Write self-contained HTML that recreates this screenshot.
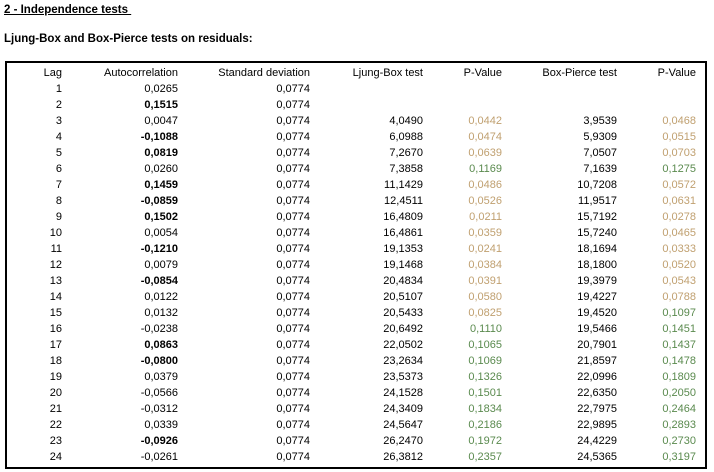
<!DOCTYPE html>
<html><head><meta charset="utf-8">
<style>
body{margin:0;background:#fff;width:714px;height:472px;overflow:hidden;font-family:"Liberation Sans",Arial,sans-serif;font-size:11px;color:#000;position:relative}
.t{position:absolute;white-space:nowrap}
.c{position:absolute;white-space:nowrap;text-align:right;line-height:16px;height:16px}
#box{position:absolute;left:5px;top:61px;width:698px;height:404px;border:2px solid #000}
</style></head><body>
<div class="t" style="left:4px;top:4px;font-weight:bold;text-decoration:underline;font-size:11.5px">2 - Independence tests&nbsp;</div>
<div class="t" style="left:4px;top:33px;font-weight:bold;font-size:11.5px">Ljung-Box and Box-Pierce tests on residuals:</div>
<div id="box"></div>
<div id="cells"></div>
<script>
const headers=["Lag","Autocorrelation","Standard deviation","Ljung-Box test","P-Value","Box-Pierce test","P-Value"];
const lags=[1,2,3,4,5,6,7,8,9,10,11,12,13,14,15,16,17,18,19,20,21,22,23,24];
const autocorr=["0,0265","0,1515","0,0047","-0,1088","0,0819","0,0260","0,1459","-0,0859","0,1502","0,0054","-0,1210","0,0079","-0,0854","0,0122","0,0132","-0,0238","0,0863","-0,0800","0,0379","-0,0566","-0,0312","0,0339","-0,0926","-0,0261"];
const stdev="0,0774";
const ljungBox=["","","4,0490","6,0988","7,2670","7,3858","11,1429","12,4511","16,4809","16,4861","19,1353","19,1468","20,4834","20,5107","20,5433","20,6492","22,0502","23,2634","23,5373","24,1528","24,3409","24,5647","26,2470","26,3812"];
const lbP=["","","0,0442","0,0474","0,0639","0,1169","0,0486","0,0526","0,0211","0,0359","0,0241","0,0384","0,0391","0,0580","0,0825","0,1110","0,1065","0,1069","0,1326","0,1501","0,1834","0,2186","0,1972","0,2357"];
const boxPierce=["","","3,9539","5,9309","7,0507","7,1639","10,7208","11,9517","15,7192","15,7240","18,1694","18,1800","19,3979","19,4227","19,4520","19,5466","20,7901","21,8597","22,0996","22,6350","22,7975","22,9895","24,4229","24,5365"];
const bpP=["","","0,0468","0,0515","0,0703","0,1275","0,0572","0,0631","0,0278","0,0465","0,0333","0,0520","0,0543","0,0788","0,1097","0,1451","0,1437","0,1478","0,1809","0,2050","0,2464","0,2893","0,2730","0,3197"];
const colRight=[62,178,310,423,502,617,696];
const root=document.getElementById('cells');
function cell(txt,col,y,extra){
  const d=document.createElement('div');
  d.className='c';
  d.textContent=txt;
  d.style.left=(colRight[col]-150)+'px';
  d.style.width='150px';
  d.style.top=y+'px';
  if(extra)Object.assign(d.style,extra);
  root.appendChild(d);
  return d;
}
function num(s){return parseFloat(s.replace(',','.'));}
function pcol(s){return num(s)<0.1?'#c0a070':'#5a8a4e';}
headers.forEach((h,i)=>{
  const d=cell(h,i,65);
  
  
});
lags.forEach((lag,r)=>{
  const y=81+r*16;
  let d=cell(String(lag),0,y);
  
  
  d=cell(autocorr[r],1,y,Math.abs(num(autocorr[r]))>0.0774?{fontWeight:'bold'}:null);
  
  
  d=cell(stdev,2,y);
  
  
  if(ljungBox[r]){
    d=cell(ljungBox[r],3,y);
    
    
    d=cell(lbP[r],4,y,{color:pcol(lbP[r])});
    
    
    d=cell(boxPierce[r],5,y);
    
    
    d=cell(bpP[r],6,y,{color:pcol(bpP[r])});
    
    
  }
});
</script>
</body></html>
